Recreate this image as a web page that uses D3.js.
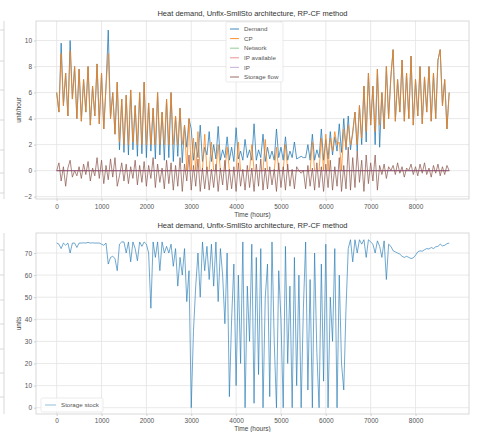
<!DOCTYPE html>
<html><head><meta charset="utf-8">
<script src="https://cdn.jsdelivr.net/npm/d3@7"></script>
<style>body{margin:0;background:#fff}svg{display:block}text{font-family:"Liberation Sans",Arial,sans-serif}</style>
</head><body><svg id="c" width="479" height="432"></svg>
<script>
// hours sampled every 50 h (0 .. 8750)
const sampleStepHours = 50;
const demand = [
6.0,4.5,9.8,5.0,7.5,4.2,10.0,5.5,8.0,4.0,
7.8,3.8,7.0,4.5,8.0,3.5,6.5,4.2,8.2,3.6,
7.5,3.2,6.5,10.8,4.0,6.0,2.8,6.8,1.6,5.5,
1.4,5.8,1.2,6.2,1.6,5.0,1.1,6.0,1.3,6.8,
1.0,5.2,1.5,4.8,0.9,6.0,1.2,4.5,0.8,5.5,
1.0,6.0,0.7,4.2,1.1,4.8,0.6,3.5,1.8,4.0,
3.2,0.8,2.2,1.0,3.5,0.7,1.8,1.2,3.0,0.7,
2.0,0.9,3.4,0.8,1.6,1.0,2.6,0.8,1.8,0.7,
3.3,0.9,1.5,0.8,2.4,1.0,1.6,0.8,3.6,0.8,
1.6,1.0,2.8,0.7,1.8,0.9,1.5,0.8,3.2,1.0,
1.8,0.8,2.6,0.8,1.5,1.0,2.2,0.9,1.0,1.1,
1.0,1.0,2.0,0.8,2.8,0.8,1.6,1.0,3.2,0.8,
2.4,0.9,3.0,1.2,2.6,1.5,3.6,1.4,4.0,1.6,
4.2,1.6,3.0,4.5,1.5,5.0,2.0,6.5,2.2,7.5,
3.5,6.5,2.0,7.8,1.8,6.0,3.2,8.0,4.0,7.2,
9.3,3.8,7.0,4.5,8.5,3.8,7.5,4.0,8.8,3.5,
7.0,4.2,8.0,3.6,7.2,4.5,8.0,3.8,7.5,4.0,
8.5,9.3,5.0,7.0,3.2,6.0];
const cp = [
6.0,4.5,9.0,5.0,7.5,4.2,9.2,5.5,8.0,4.0,
7.8,3.8,7.0,4.5,8.0,3.5,6.5,4.2,8.2,3.6,
7.5,3.2,6.5,9.0,4.0,6.0,2.8,6.8,2.2,5.5,
2.0,5.8,2.0,6.2,2.2,5.0,2.0,6.0,2.0,6.8,
2.0,5.2,2.0,4.8,2.0,6.0,2.0,4.5,2.0,5.5,
2.0,6.0,2.0,4.2,2.0,4.8,2.0,3.5,0.0,4.0,
0.0,2.5,0.0,3.0,0.0,0.0,2.8,0.0,0.0,2.2,
0.0,0.0,2.0,0.0,0.0,0.0,1.8,0.0,0.0,0.0,
0.0,2.2,0.0,0.0,0.0,0.0,0.0,2.0,0.0,0.0,
0.0,0.0,0.0,2.4,0.0,0.0,0.0,0.0,1.8,0.0,
0.0,0.0,2.0,0.0,0.0,0.0,0.0,0.0,0.0,0.0,
0.0,0.0,0.0,0.0,2.2,0.0,0.0,0.0,2.5,0.0,
2.8,0.0,2.5,1.5,3.0,2.0,2.2,0.0,3.2,1.8,
3.5,2.0,2.8,4.5,2.0,5.0,2.5,6.5,3.0,7.5,
3.5,6.5,3.0,7.8,3.5,6.0,3.2,8.0,4.0,7.2,
9.3,3.8,7.0,4.5,8.5,3.8,7.5,4.0,8.8,3.5,
7.0,4.2,8.0,3.6,7.2,4.5,8.0,3.8,7.5,4.0,
8.5,9.3,5.0,7.0,3.2,6.0];
const storageFlow = [
0,0.6,-0.8,0.3,-1.2,0.2,0.8,-0.5,0,-0.4,
0.3,-0.6,0.5,-0.3,0.7,-0.8,0.2,-0.4,1.0,-0.6,
0.8,-1.0,0.4,-0.7,0.9,-0.5,1.0,-1.2,-0.4,0.6,
-0.8,0.5,-1.0,0.3,-0.6,0.8,-1.1,0.4,-0.9,0.7,
-1.2,0.4,-0.6,1.0,-1.3,0.5,-0.9,0.2,-1.4,0.8,
-1.0,0.6,-1.5,0.4,-1.2,1.0,-1.6,0.5,-0.8,1.2,
-1.5,0.4,-1.2,0.9,-1.6,0.2,-1.4,0.3,-1.5,0.1,
-1.3,0.5,-1.6,0.2,-1.1,0.8,-1.5,0.1,-1.4,0.3,
-1.6,0.6,-1.2,0.1,-1.5,0.4,-1.3,0.2,-1.6,0.5,
-1.2,0.9,-1.5,0.2,-1.4,0.3,-1.1,0.1,-1.6,0.6,
-1.3,0.3,-1.5,0.5,-1.2,0.1,-1.4,0.3,0,-0.2,
0,-1.4,0.4,-1.2,0.2,-1.5,0.6,-1.3,0.3,-1.6,
0.5,-1.3,0.8,-1.5,0.3,-1.2,1.0,-1.6,0.4,-1.4,
1.8,-1.5,1.0,-1.3,1.5,-0.9,0.8,-1.6,1.2,-1.0,
0.6,-0.8,1.2,-1.5,0.4,-0.3,0.5,-0.6,0.3,0,
0.4,-0.3,0.6,-0.2,0.3,-0.5,0.2,0,0.5,-0.3,
0.3,-0.4,0.5,-0.2,0.6,-0.3,0.2,-0.5,0.4,-0.2,
0.5,-0.4,0.3,-0.3,0.4,0];
const zeroSeriesHours = [0, 8750];
const network = [0, 0];
const ipAvailable = [0, 0];
const ip = [0, 0];
const storageStock = [
74.5,74.0,72.0,74.5,73.5,74.5,70.0,74.5,74.5,72.5,
74.5,74.5,74.6,74.5,74.8,74.5,74.6,74.5,74.5,74.5,
74.0,73.5,74.5,65.0,68.0,68.5,67.5,62.0,74.0,75.0,
75.0,70.0,75.0,66.0,75.0,72.0,66.5,75.0,73.0,75.0,
74.0,70.0,45.0,75.0,68.0,75.0,62.0,75.0,70.0,73.0,
70.0,74.0,64.0,72.0,55.0,68.0,60.0,72.0,48.0,62.0,
0.0,35.0,55.0,70.0,50.0,75.0,62.0,73.0,58.0,74.0,
55.0,75.0,48.0,72.0,60.0,38.0,70.0,5.0,40.0,65.0,
10.0,60.0,20.0,75.0,0.0,55.0,30.0,74.0,2.0,68.0,
15.0,72.0,0.0,50.0,65.0,5.0,75.0,30.0,0.0,62.0,
40.0,0.0,73.0,20.0,55.0,0.0,68.0,10.0,60.0,0.0,
45.0,75.0,8.0,58.0,0.0,70.0,25.0,0.0,65.0,12.0,
74.0,0.0,50.0,30.0,72.0,0.0,60.0,20.0,8.0,45.0,
72.0,76.0,66.0,76.0,70.0,76.0,74.0,76.0,68.0,76.0,
75.0,74.0,70.0,75.5,73.0,68.0,75.5,58.0,74.0,73.0,
71.0,70.5,70.0,69.5,68.5,68.0,68.5,68.0,67.5,67.8,
69.0,70.5,71.0,70.8,71.5,72.0,71.8,72.5,72.0,72.8,
73.0,74.0,73.2,73.5,74.2,74.5];
const xTicks = [0,1000,2000,3000,4000,5000,6000,7000,8000];
const yTicksTop = [-2,0,2,4,6,8,10];
const yTicksBottom = [0,10,20,30,40,50,60,70];
const titleText = "Heat demand, Unflx-SmllSto architecture, RP-CF method";
const topSeriesNames = ["Demand","CP","Network","IP available","IP","Storage flow"];
const topSeriesColors = ["#1f77b4","#ff7f0e","#2ca02c","#d62728","#9467bd","#8c564b"];

const svg = d3.select("#c");
const hours = demand.map((_, i) => i * sampleStepHours);
const x = d3.scaleLinear().domain([-461, 9192]).range([36, 469]);
const yTop = d3.scaleLinear().domain([-2.18, 11.5]).range([199, 21]);
const yBot = d3.scaleLinear().domain([-2.85, 79.05]).range([414, 233]);
const gridC = "#e3e3e3", frameC = "#cfcfcf", tickTextC = "#555";

// partial neighbouring chart at the left edge
[[21,199],[233,414]].forEach(([a,b]) => {
  svg.append("line").attr("x1",4).attr("x2",4).attr("y1",a).attr("y2",b).attr("stroke",frameC).attr("stroke-width",0.8);
});
[30,61,90,120,150,173,193].forEach(v => svg.append("line").attr("x1",0).attr("x2",4).attr("y1",v).attr("y2",v).attr("stroke",frameC).attr("stroke-width",0.8));
[250,275,300,324,349,373,397].forEach(v => svg.append("line").attr("x1",0).attr("x2",4).attr("y1",v).attr("y2",v).attr("stroke",frameC).attr("stroke-width",0.8));

function panel(y, yTicks, top, bottom, ylabel, xlabelY, pad) {
  const g = svg.append("g");
  g.append("rect").attr("x",36).attr("y",top).attr("width",433).attr("height",bottom-top).attr("fill","#fff");
  xTicks.forEach(t => g.append("line").attr("x1",x(t)).attr("x2",x(t)).attr("y1",top).attr("y2",bottom).attr("stroke",gridC).attr("stroke-width",0.8));
  yTicks.forEach(t => g.append("line").attr("x1",36).attr("x2",469).attr("y1",y(t)).attr("y2",y(t)).attr("stroke",gridC).attr("stroke-width",0.8));
  const xa = g.append("g").attr("transform",`translate(0,${bottom})`).call(d3.axisBottom(x).tickValues(xTicks).tickSize(2).tickPadding(pad).tickFormat(d3.format("d")));
  const ya = g.append("g").attr("transform","translate(36,0)").call(d3.axisLeft(y).tickValues(yTicks).tickSize(2).tickPadding(2).tickFormat(d => d < 0 ? "\u2212" + Math.abs(d) : d));
  [xa, ya].forEach(a => {
    a.select(".domain").remove();
    a.selectAll(".tick line").attr("stroke",frameC);
    a.selectAll("text").attr("fill",tickTextC).style("font-size","6.5px").style("font-family","'Liberation Sans',Arial,sans-serif");
  });
  g.append("text").attr("x",252.5).attr("y",xlabelY).attr("text-anchor","middle").attr("fill","#444").style("font-size","6.5px").text("Time (hours)");
  g.append("text").attr("transform",`translate(21,${(top+bottom)/2}) rotate(-90)`).attr("text-anchor","middle").attr("fill","#444").style("font-size","6.5px").text(ylabel);
  g.append("text").attr("x",252.5).attr("y",top-5).attr("text-anchor","middle").attr("fill","#333").style("font-size","7.5px").text(titleText);
  return g;
}

panel(yTop, yTicksTop, 21, 199, "unit/hour", 217, 3);
panel(yBot, yTicksBottom, 233, 414, "units", 431, 2);

svg.append("clipPath").attr("id","ct").append("rect").attr("x",36).attr("y",21).attr("width",433).attr("height",178);
const lineT = d3.line().x(d => x(d[0])).y(d => yTop(d[1]));
const topSeries = [
  hours.map((h,i) => [h, demand[i]]),
  hours.map((h,i) => [h, cp[i]]),
  zeroSeriesHours.map((h,i) => [h, network[i]]),
  zeroSeriesHours.map((h,i) => [h, ipAvailable[i]]),
  zeroSeriesHours.map((h,i) => [h, ip[i]]),
  hours.map((h,i) => [h, storageFlow[i]])
];
const plotT = svg.append("g").attr("clip-path","url(#ct)");
topSeries.forEach((s, k) => {
  plotT.append("path").datum(s).attr("d", lineT).attr("fill","none")
    .attr("stroke", topSeriesColors[k]).attr("stroke-width", 0.85)
    .attr("stroke-opacity", k === 5 ? 0.85 : 0.9).attr("stroke-linejoin","round");
});

// top legend
const lg = svg.append("g");
lg.append("rect").attr("x",226).attr("y",22).attr("width",57).attr("height",60).attr("fill","#fff").attr("fill-opacity",0.85).attr("stroke","#e2e2e2").attr("stroke-width",0.7).attr("rx",1.5);
topSeriesNames.forEach((n, k) => {
  const yy = 29 + k * 9.6;
  lg.append("line").attr("x1",230).attr("x2",239).attr("y1",yy).attr("y2",yy).attr("stroke",topSeriesColors[k]).attr("stroke-width",1).attr("stroke-opacity",k < 2 || k === 5 ? 0.85 : 0.5);
  lg.append("text").attr("x",244).attr("y",yy+2.2).attr("fill","#555").style("font-size","6.2px").text(n);
});

// bottom
svg.append("clipPath").attr("id","cb").append("rect").attr("x",36).attr("y",233).attr("width",433).attr("height",181);
const lineB = d3.line().x(d => x(d[0])).y(d => yBot(d[1]));
svg.append("g").attr("clip-path","url(#cb)").append("path").datum(hours.map((h,i) => [h, storageStock[i]]))
  .attr("d", lineB).attr("fill","none").attr("stroke","#1f77b4").attr("stroke-width",0.75).attr("stroke-opacity",0.85);

const lb = svg.append("g");
lb.append("rect").attr("x",41).attr("y",398).attr("width",62).attr("height",14).attr("fill","#fff").attr("fill-opacity",0.85).attr("stroke","#e2e2e2").attr("stroke-width",0.7).attr("rx",1.5);
lb.append("line").attr("x1",45).attr("x2",56).attr("y1",405).attr("y2",405).attr("stroke","#1f77b4").attr("stroke-width",0.8).attr("stroke-opacity",0.6);
lb.append("text").attr("x",61).attr("y",407.3).attr("fill","#555").style("font-size","6.2px").text("Storage stock");

// outer frames on top
[[21,199],[233,414]].forEach(([a,b]) => svg.append("rect").attr("x",36).attr("y",a).attr("width",433).attr("height",b-a).attr("fill","none").attr("stroke",frameC).attr("stroke-width",0.8));
</script></body></html>
